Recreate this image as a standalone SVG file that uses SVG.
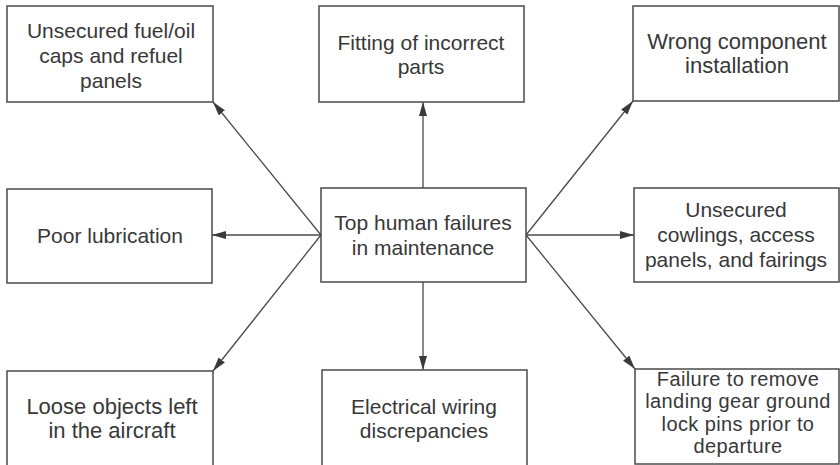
<svg xmlns="http://www.w3.org/2000/svg" width="840" height="465" viewBox="0 0 840 465">
<defs>
<style>
.box{fill:#fff;stroke:#4a4a4a;stroke-width:1.5}
.t{font-family:"Liberation Sans",Arial,sans-serif;font-size:21px;fill:#383838;text-anchor:middle}
.l{font-size:22px}
.g{font-size:20px;letter-spacing:0.4px}
.c{fill:none;stroke:#4a4a4a;stroke-width:1.3}
</style>
<marker id="ah" markerUnits="userSpaceOnUse" markerWidth="15" markerHeight="9" refX="14" refY="4" orient="auto">
<path d="M0,0 L14,4 L0,8 z" fill="#3a3a3a"/>
</marker>
</defs>
<rect width="840" height="465" fill="#fff"/>
<g id="connectors">
<line class="c" x1="423" y1="188" x2="423" y2="102" marker-end="url(#ah)"/>
<line class="c" x1="423" y1="282" x2="423" y2="370" marker-end="url(#ah)"/>
<line class="c" x1="321" y1="235" x2="212" y2="235" marker-end="url(#ah)"/>
<line class="c" x1="526" y1="235" x2="634" y2="235" marker-end="url(#ah)"/>
<line class="c" x1="321" y1="235" x2="213" y2="102" marker-end="url(#ah)"/>
<line class="c" x1="321" y1="235" x2="213" y2="371" marker-end="url(#ah)"/>
<line class="c" x1="526" y1="235" x2="633" y2="101" marker-end="url(#ah)"/>
<line class="c" x1="526" y1="235" x2="635" y2="369" marker-end="url(#ah)"/>
</g>
<g id="n-center">
<rect class="box" x="321" y="188" width="205" height="94"/>
<text class="t" x="423" y="230">Top human failures</text>
<text class="t" x="423" y="255">in maintenance</text>
</g>
<g id="n-fuel">
<rect class="box" x="7" y="6" width="206" height="96"/>
<text class="t" x="111" y="38">Unsecured fuel/oil</text>
<text class="t" x="111" y="63">caps and refuel</text>
<text class="t" x="111" y="88">panels</text>
</g>
<g id="n-fitting">
<rect class="box" x="319" y="6" width="205" height="96"/>
<text class="t" x="421" y="50">Fitting of incorrect</text>
<text class="t" x="421" y="74">parts</text>
</g>
<g id="n-wrong">
<rect class="box" x="633" y="6" width="206" height="95"/>
<text class="t l" x="737" y="49">Wrong component</text>
<text class="t l" x="737" y="73">installation</text>
</g>
<g id="n-lube">
<rect class="box" x="7" y="189" width="205" height="94"/>
<text class="t" x="110" y="243">Poor lubrication</text>
</g>
<g id="n-cowl">
<rect class="box" x="634" y="188" width="205" height="94"/>
<text class="t" x="736" y="217">Unsecured</text>
<text class="t" x="736" y="242">cowlings, access</text>
<text class="t" x="736" y="267">panels, and fairings</text>
</g>
<g id="n-loose">
<rect class="box" x="7" y="371" width="206" height="97"/>
<text class="t l" x="112" y="414">Loose objects left</text>
<text class="t l" x="112" y="438">in the aircraft</text>
</g>
<g id="n-wiring">
<rect class="box" x="322" y="370" width="205" height="98"/>
<text class="t" x="424" y="414">Electrical wiring</text>
<text class="t" x="424" y="438">discrepancies</text>
</g>
<g id="n-gear">
<rect class="box" x="635" y="369" width="204" height="95"/>
<text class="t g" x="738" y="385.5">Failure to remove</text>
<text class="t g" x="738" y="408">landing gear ground</text>
<text class="t g" x="738" y="430.5">lock pins prior to</text>
<text class="t g" x="738" y="453">departure</text>
</g>
</svg>
